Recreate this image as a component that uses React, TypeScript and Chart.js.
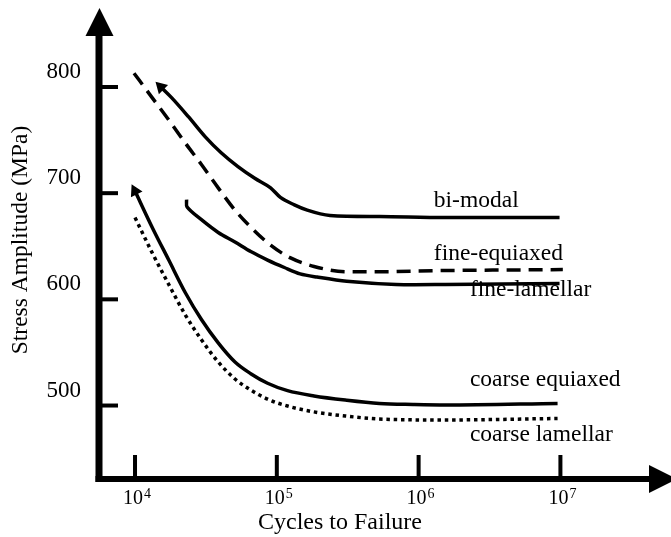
import React, { useEffect, useRef } from "react";
import { Chart, registerables } from "chart.js";

Chart.register(...registerables);

// ---- data (cycles to failure, stress amplitude in MPa) ----
const bimodalCycles = [1.52e4, 1.81e4, 2.38e4, 3.13e4, 4.05e4, 5.32e4, 6.99e4, 9.04e4, 1.06e5, 1.33e5, 1.64e5, 2.37e5, 5.3e5, 1.55e6, 9.86e6];
const bimodalStress = [800, 790, 772, 753, 738, 725, 714, 705, 696, 689, 684, 679, 678, 677, 677];

const fineEquiaxedCycles = [9.84e3, 1.32e4, 1.73e4, 2.27e4, 2.94e4, 3.86e4, 5.07e4, 6.55e4, 9.04e4, 1.25e5, 1.83e5, 3.11e5, 5.29e5, 1.26e6, 1.04e7];
const fineEquiaxedStress = [813, 790, 769, 747, 727, 705, 684, 668, 651, 639, 631, 626, 626, 627, 628];

const fineLamellarCycles = [2.31e4, 2.33e4, 2.94e4, 3.86e4, 5.07e4, 6.55e4, 8.61e4, 1.13e5, 1.46e5, 1.92e5, 3.11e5, 6.93e5, 1.55e6, 9.86e6];
const fineLamellarStress = [694, 687, 675, 663, 654, 645, 637, 630, 624, 621, 617, 614, 614, 615];

const coarseEquiaxedCycles = [1.0e4, 1.32e4, 1.73e4, 2.27e4, 2.94e4, 3.86e4, 5.07e4, 6.55e4, 8.61e4, 1.19e5, 1.83e5, 3.11e5, 5.29e5, 9.14e5, 1.55e6, 9.55e6];
const coarseEquiaxedStress = [702, 668, 637, 606, 581, 559, 541, 530, 521, 514, 509, 505, 502, 501, 500.5, 502];

const coarseLamellarCycles = [1.0e4, 1.32e4, 1.73e4, 2.27e4, 2.94e4, 3.86e4, 5.07e4, 6.55e4, 8.61e4, 1.19e5, 1.83e5, 3.11e5, 5.29e5, 1.55e6, 9.55e6];
const coarseLamellarStress = [677, 644, 614, 585, 562, 541, 525, 514.6, 506, 499.5, 494, 490, 487.3, 486.4, 487.8];

const seriesNames = ["bi-modal", "fine-equiaxed", "fine-lamellar", "coarse equiaxed", "coarse lamellar"];

const yTickValues = [500, 600, 700, 800];
const yTickLabels = ["500", "600", "700", "800"];
const xTickValues = [1e4, 1e5, 1e6, 1e7];
const xTickBase = "10";
const xTickExponents = ["4", "5", "6", "7"];

const xTitle = "Cycles to Failure";
const yTitle = "Stress Amplitude (MPa)";

const FONT = '"Liberation Serif", "Times New Roman", serif';

function pts(xs: number[], ys: number[]) {
  return xs.map((x, i) => ({ x, y: ys[i] }));
}

// label anchors in data coordinates (left edge, text baseline)
const labelAnchors = [
  { x: 1.28e6, y: 687 },
  { x: 1.28e6, y: 637 },
  { x: 2.3e6, y: 603 },
  { x: 2.3e6, y: 518.4 },
  { x: 2.3e6, y: 466.6 },
];

const axesPlugin = {
  id: "handAxes",
  beforeDatasetsDraw(chart: any) {
    const { ctx, chartArea: ca, scales } = chart;
    const xs = scales.x;
    const ys = scales.y;
    const ax = ca.left;
    const ay = ca.bottom;
    ctx.save();
    ctx.fillStyle = "#000";
    // y axis line
    ctx.fillRect(ax - 3.5, 32, 7, ay + 3 - 32);
    // x axis line
    ctx.fillRect(ax - 3.5, ay - 3, 652 - (ax - 3.5), 6);
    // y arrow
    ctx.beginPath();
    ctx.moveTo(ax + 0.5, ca.top);
    ctx.lineTo(ax - 13.5, ca.top + 28);
    ctx.lineTo(ax + 14.5, ca.top + 28);
    ctx.closePath();
    ctx.fill();
    // x arrow
    ctx.beginPath();
    ctx.moveTo(677, ay);
    ctx.lineTo(649, ay - 14);
    ctx.lineTo(649, ay + 14);
    ctx.closePath();
    ctx.fill();

    // y ticks + labels
    ctx.font = `23px ${FONT}`;
    ctx.textAlign = "right";
    ctx.textBaseline = "middle";
    yTickValues.forEach((v, i) => {
      const py = ys.getPixelForValue(v);
      ctx.fillRect(ax, py - 2, 19, 4);
      ctx.fillText(yTickLabels[i], 81, py - 15);
    });

    // x ticks + labels
    ctx.textAlign = "left";
    ctx.textBaseline = "alphabetic";
    xTickValues.forEach((v, i) => {
      const px = xs.getPixelForValue(v);
      ctx.fillRect(px - 2, ay - 24, 4, 24);
      ctx.font = `20px ${FONT}`;
      const wb = ctx.measureText(xTickBase).width;
      ctx.font = `14px ${FONT}`;
      const we = ctx.measureText(xTickExponents[i]).width;
      const start = px + 2 - (wb + we + 1) / 2;
      ctx.font = `20px ${FONT}`;
      ctx.fillText(xTickBase, start, 504);
      ctx.font = `14px ${FONT}`;
      ctx.fillText(xTickExponents[i], start + wb + 1, 498);
    });

    // axis titles
    ctx.font = `24px ${FONT}`;
    ctx.textAlign = "center";
    ctx.fillText(xTitle, 340, 529);

    ctx.save();
    ctx.translate(21, 240);
    ctx.rotate(-Math.PI / 2);
    ctx.textBaseline = "middle";
    ctx.font = `23.5px ${FONT}`;
    ctx.fillText(yTitle, 0, 0);
    ctx.restore();

    ctx.restore();
  },
  afterDatasetsDraw(chart: any) {
    const { ctx, scales } = chart;
    ctx.save();
    ctx.fillStyle = "#000";
    ctx.font = `23.5px ${FONT}`;
    ctx.textAlign = "left";
    ctx.textBaseline = "alphabetic";
    seriesNames.forEach((name, i) => {
      const a = labelAnchors[i];
      ctx.fillText(name, scales.x.getPixelForValue(a.x), scales.y.getPixelForValue(a.y));
    });
    ctx.restore();
  },
};

export default function App() {
  const ref = useRef<HTMLCanvasElement | null>(null);

  useEffect(() => {
    if (!ref.current) return;
    const common = {
      borderColor: "#000",
      backgroundColor: "#000",
      pointBackgroundColor: "#000",
      pointBorderColor: "#000",
      borderWidth: 3.5,
      fill: false,
      cubicInterpolationMode: "monotone" as const,
      borderCapStyle: "butt" as const,
      pointRadius: 0,
      pointHoverRadius: 0,
    };
    const chart = new Chart(ref.current, {
      type: "line",
      data: {
        datasets: [
          {
            ...common,
            label: seriesNames[0],
            data: pts(bimodalCycles, bimodalStress),
            pointStyle: "triangle",
            pointRadius: (c: any) => (c.dataIndex === 0 ? 4 : 0),
            rotation: -45,
          },
          {
            ...common,
            label: seriesNames[1],
            data: pts(fineEquiaxedCycles, fineEquiaxedStress),
            borderDash: [14, 8],
          },
          {
            ...common,
            label: seriesNames[2],
            data: pts(fineLamellarCycles, fineLamellarStress),
            cubicInterpolationMode: "default",
            tension: 0.3,
          },
          {
            ...common,
            label: seriesNames[3],
            data: pts(coarseEquiaxedCycles, coarseEquiaxedStress),
            pointStyle: "triangle",
            pointRadius: (c: any) => (c.dataIndex === 0 ? 4 : 0),
            rotation: -27,
          },
          {
            ...common,
            label: seriesNames[4],
            data: pts(coarseLamellarCycles, coarseLamellarStress),
            borderDash: [3.5, 3.8],
            borderWidth: 3.5,
          },
        ],
      } as any,
      options: {
        animation: false,
        responsive: false,
        maintainAspectRatio: false,
        devicePixelRatio: 1,
        layout: { padding: { left: 99, top: 8, right: 0, bottom: 58 } },
        scales: {
          x: { type: "logarithmic", display: false, min: Math.pow(10, 3.746), max: Math.pow(10, 7.727) },
          y: { type: "linear", display: false, min: 430.8, max: 874.4 },
        },
        plugins: {
          legend: { display: false },
          tooltip: { enabled: false },
        },
        events: [],
      } as any,
      plugins: [axesPlugin],
    });
    return () => chart.destroy();
  }, []);

  return (
    <div style={{ position: "absolute", left: 0, top: 0, width: 671, height: 537, background: "#fff" }}>
      <canvas ref={ref} width={671} height={537} style={{ display: "block", width: 671, height: 537 }} />
    </div>
  );
}
